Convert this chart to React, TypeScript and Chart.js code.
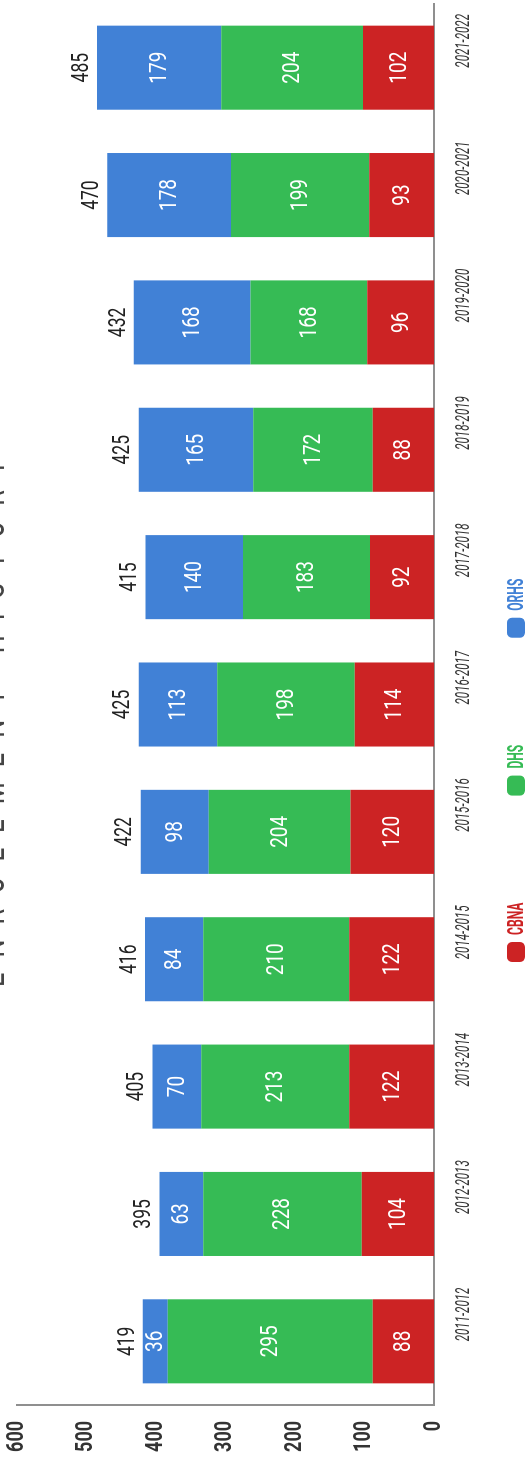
import React, { useEffect, useRef } from "react";
import { Chart, registerables } from "chart.js";

Chart.register(...registerables);

// School years on the category axis
const years = [
  "2011-2012",
  "2012-2013",
  "2013-2014",
  "2014-2015",
  "2015-2016",
  "2016-2017",
  "2017-2018",
  "2018-2019",
  "2019-2020",
  "2020-2021",
  "2021-2022",
];

// Enrollment by school
const cbna = [88, 104, 122, 122, 120, 114, 92, 88, 96, 93, 102];
const dhs = [295, 228, 213, 210, 204, 198, 183, 172, 168, 199, 204];
const orhs = [36, 63, 70, 84, 98, 113, 140, 165, 168, 178, 179];

const seriesNames = ["CBNA", "DHS", "ORHS"];
const seriesColors = ["#cc2324", "#36bb55", "#4181d6"];
const valueTicks = [0, 100, 200, 300, 400, 500, 600];
const chartTitle = "ENROLLMENT HISTORY";

// The chart is laid out landscape and turned a quarter turn on the page.
const W = 1458;
const H = 530;
const FONT = 'Roboto, "DejaVu Sans", sans-serif';

// Draws text squeezed horizontally to get a condensed face.
function condensedText(
  ctx: CanvasRenderingContext2D,
  text: string,
  x: number,
  y: number,
  font: string,
  sx: number,
  align: CanvasTextAlign,
  baseline: CanvasTextBaseline = "middle"
) {
  ctx.save();
  ctx.font = font;
  ctx.textAlign = align;
  ctx.textBaseline = baseline;
  ctx.translate(x, y);
  ctx.scale(sx, 1);
  ctx.fillText(text, 0, 0);
  ctx.restore();
}

const decorations = {
  id: "decorations",
  afterDatasetsDraw(chart: any) {
    const { ctx } = chart;
    const yScale = chart.scales.y;
    ctx.save();

    // values inside each segment
    ctx.fillStyle = "#ffffff";
    chart.data.datasets.forEach((ds: any, i: number) => {
      const meta = chart.getDatasetMeta(i);
      meta.data.forEach((el: any, j: number) => {
        const { x, y, base } = el.getProps(["x", "y", "base"], true);
        condensedText(ctx, String(ds.data[j]), x, (y + base) / 2 + 1, `24px ${FONT}`, 0.79, "center");
      });
    });

    // stack totals above each bar
    ctx.fillStyle = "#222222";
    const firstMeta = chart.getDatasetMeta(0);
    years.forEach((_, j) => {
      const total = chart.data.datasets.reduce(
        (s: number, ds: any) => s + (ds.data[j] as number),
        0
      );
      const x = firstMeta.data[j].x;
      condensedText(ctx, String(total), x, yScale.getPixelForValue(total) - 15, `23px ${FONT}`, 0.76, "center");
    });
    ctx.restore();
  },
  afterDraw(chart: any) {
    const { ctx } = chart;
    const xScale = chart.scales.x;
    const yScale = chart.scales.y;
    ctx.save();

    // value axis labels
    ctx.fillStyle = "#333333";
    valueTicks.forEach((v) => {
      condensedText(ctx, String(v), yScale.left + yScale.width - 16, yScale.getPixelForValue(v), `bold 23px ${FONT}`, 0.78, "right");
    });

    // category labels, left-aligned on each bar centre
    ctx.fillStyle = "#333333";
    years.forEach((label, i) => {
      condensedText(ctx, label, xScale.getPixelForValue(i), 464, `italic 20px ${FONT}`, 0.58, "left");
    });

    // legend
    const textScale = 0.55;
    const legendFont = `bold 22px ${FONT}`;
    let lx = 496;
    seriesNames.forEach((name, i) => {
      ctx.fillStyle = seriesColors[i];
      ctx.beginPath();
      ctx.roundRect(lx, 507, 20, 18, 5);
      ctx.fill();
      const tx = lx + 27;
      ctx.font = legendFont;
      const tw = ctx.measureText(name).width * textScale;
      condensedText(ctx, name, tx, 517, legendFont, textScale, "left");
      lx = tx + tw + 107;
    });

    // title, mostly above the top edge
    ctx.font = `36px ${FONT}`;
    ctx.fillStyle = "#444444";
    ctx.textAlign = "left";
    ctx.textBaseline = "alphabetic";
    const chars = chartTitle.split("");
    const widths = chars.map((c) => ctx.measureText(c).width * 0.7);
    const sum = widths.reduce((a, b) => a + b, 0);
    const startX = 471;
    const endX = 998;
    const gap = (endX - startX - sum) / (chars.length - 1);
    let cx = startX;
    chars.forEach((c, k) => {
      condensedText(ctx, c, cx, 4, `36px ${FONT}`, 0.7, "left", "alphabetic");
      cx += widths[k] + gap;
    });

    ctx.restore();
  },
};

export default function App() {
  const canvasRef = useRef<HTMLCanvasElement | null>(null);

  useEffect(() => {
    const canvas = canvasRef.current;
    if (!canvas) return;
    const seriesData = [cbna, dhs, orhs];
    const chart = new Chart(canvas, {
      type: "bar",
      data: {
        labels: years,
        datasets: seriesNames.map((name, i) => ({
          label: name,
          data: seriesData[i],
          backgroundColor: seriesColors[i],
          borderWidth: 0,
          barPercentage: 0.66,
          categoryPercentage: 1,
        })),
      },
      options: {
        responsive: false,
        animation: false,
        devicePixelRatio: 1,
        layout: { padding: { top: 17, right: 4, left: 0, bottom: 0 } },
        plugins: {
          legend: { display: false },
          title: { display: false },
          tooltip: { enabled: false },
        },
        scales: {
          x: {
            stacked: true,
            grid: { display: false, drawTicks: false },
            border: { display: true, color: "#8f8f8f", width: 2 },
            ticks: { display: false },
            afterFit: (s: any) => {
              s.height = 96;
            },
          },
          y: {
            stacked: true,
            min: 0,
            max: 600,
            grid: { display: false, drawTicks: false },
            border: { display: true, color: "#8f8f8f", width: 2 },
            ticks: { display: false },
            afterBuildTicks: (s: any) => {
              s.ticks = valueTicks.map((v) => ({ value: v }));
            },
            afterFit: (s: any) => {
              s.width = 53;
            },
          },
        },
      },
      plugins: [decorations],
    });
    return () => chart.destroy();
  }, []);

  return (
    <div
      style={{
        position: "fixed",
        left: 0,
        top: 0,
        width: H,
        height: W,
        overflow: "hidden",
        background: "#ffffff",
      }}
    >
      <div
        style={{
          position: "absolute",
          left: 0,
          top: 0,
          width: W,
          height: H,
          transformOrigin: "0 0",
          transform: `translateY(${W}px) rotate(-90deg)`,
        }}
      >
        <canvas
          ref={canvasRef}
          width={W}
          height={H}
          style={{ display: "block", width: W, height: H }}
        />
      </div>
    </div>
  );
}
